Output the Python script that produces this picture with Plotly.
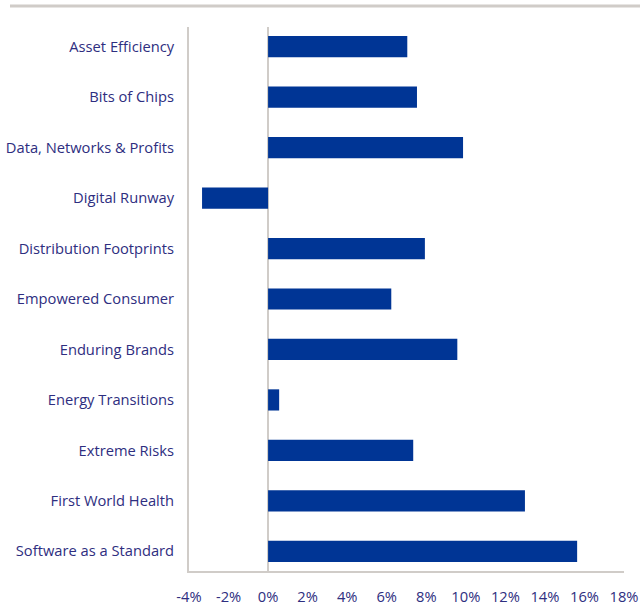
import plotly.graph_objects as go

categories = [
    "Asset Efficiency",
    "Bits of Chips",
    "Data, Networks & Profits",
    "Digital Runway",
    "Distribution Footprints",
    "Empowered Consumer",
    "Enduring Brands",
    "Energy Transitions",
    "Extreme Risks",
    "First World Health",
    "Software as a Standard",
]
values = [7.04, 7.53, 9.86, -3.34, 7.93, 6.23, 9.57, 0.56, 7.34, 12.99, 15.63]
x_ticks = [-4, -2, 0, 2, 4, 6, 8, 10, 12, 14, 16, 18]
x_tick_labels = [f"{t}%" for t in x_ticks]

TEXT = "#2e2e80"
LINE = "#d0ccc8"
BAR = "#003595"

fig = go.Figure(
    go.Bar(
        x=values,
        y=categories,
        orientation="h",
        marker=dict(color=BAR, line=dict(width=0)),
        width=0.42,
        hoverinfo="x+y",
    )
)

fig.update_layout(
    width=640,
    height=606,
    margin=dict(l=189, r=16, t=27, b=35),
    paper_bgcolor="white",
    plot_bgcolor="white",
    showlegend=False,
    font=dict(family="Open Sans", size=14.7, color=TEXT),
    xaxis=dict(
        range=[-4, 18],
        tickvals=x_ticks,
        ticktext=x_tick_labels,
        showgrid=False,
        zeroline=True,
        zerolinecolor=LINE,
        zerolinewidth=2,
        showline=True,
        linecolor=LINE,
        linewidth=2,
        ticks="",
        ticklabelstandoff=11,
        tickfont=dict(size=14.7, color=TEXT),
        automargin=False,
        fixedrange=True,
    ),
    yaxis=dict(
        type="category",
        categoryorder="array",
        categoryarray=categories,
        range=[10.39, -0.39],
        showgrid=False,
        showline=True,
        linecolor=LINE,
        linewidth=2,
        ticks="",
        ticklabelstandoff=10,
        tickfont=dict(size=14.7, color=TEXT),
        automargin=False,
        fixedrange=True,
    ),
    shapes=[
        dict(
            type="line",
            xref="paper",
            yref="paper",
            x0=(10 - 189) / 435,
            x1=(640 - 189) / 435,
            y0=(571 - 6) / 544,
            y1=(571 - 6) / 544,
            line=dict(color=LINE, width=3),
        )
    ],
)

fig.write_html("out.html")
